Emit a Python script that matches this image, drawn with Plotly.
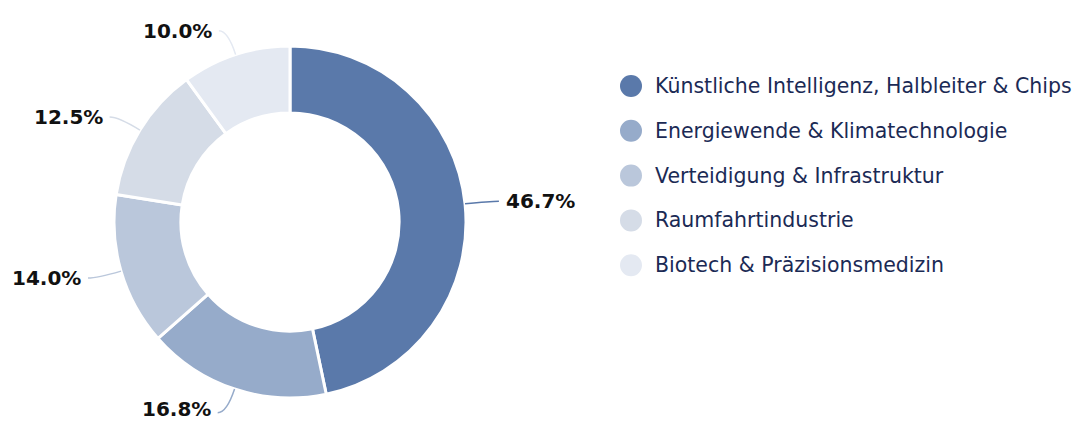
import math
import plotly.graph_objects as go

categories = [
    "Künstliche Intelligenz, Halbleiter & Chips",
    "Energiewende & Klimatechnologie",
    "Verteidigung & Infrastruktur",
    "Raumfahrtindustrie",
    "Biotech & Präzisionsmedizin",
]
values = [46.7, 16.8, 14.0, 12.5, 10.0]
colors = ["#5a79aa", "#96abca", "#bac7db", "#d5dce7", "#e4e9f2"]

W, H = 1077, 423
CX, CY, R = 290, 222, 176
HOLE = 0.62
LEN1, LEN2 = 25, 9

fig = go.Figure()
fig.add_trace(go.Pie(
    labels=categories, values=values, sort=False, direction="clockwise", rotation=0,
    hole=HOLE, textinfo="none", showlegend=False, hoverinfo="label+percent",
    marker=dict(colors=colors, line=dict(color="white", width=3)),
    domain=dict(x=[(CX - R) / W, (CX + R) / W], y=[1 - (CY + R) / H, 1 - (CY - R) / H]),
))

def px(x):
    return x / W

def py(y):
    return 1 - y / H

total = sum(values)
cum = 0.0
shapes = []
annotations = []
for v, c in zip(values, colors):
    mid = (cum + v / 2) / total * 2 * math.pi
    cum += v
    dx, dy = math.sin(mid), -math.cos(mid)
    x0, y0 = CX + R * dx, CY + R * dy
    x1, y1 = CX + (R + LEN1) * dx, CY + (R + LEN1) * dy
    side = 1 if dx >= 0 else -1
    x2, y2 = x1 + side * LEN2, y1
    shapes.append(dict(
        type="path", xref="paper", yref="paper",
        path=f"M {px(x0)},{py(y0)} Q {px(x1)},{py(y1)} {px(x2)},{py(y2)}",
        line=dict(color=c, width=1.5),
    ))
    ty = min(max(y2, 14), H - 14)
    annotations.append(dict(
        x=px(x2 + side * 5), y=py(ty), xref="paper", yref="paper",
        text=f"{v:.1f}%", showarrow=False,
        xanchor="left" if side > 0 else "right", yanchor="middle",
        font=dict(family="DejaVu Sans", size=20, color="#111111", weight="bold"),
    ))

LX, LY0, LDY, LR = 631, 86, 44.8, 11
for i, (name, c) in enumerate(zip(categories, colors)):
    y = LY0 + i * LDY
    shapes.append(dict(
        type="circle", xref="paper", yref="paper",
        x0=px(LX - LR), x1=px(LX + LR), y0=py(y + LR), y1=py(y - LR),
        fillcolor=c, line=dict(width=0),
    ))
    annotations.append(dict(
        x=px(LX + 22), y=py(y), xref="paper", yref="paper", text=name,
        showarrow=False, xanchor="left", yanchor="middle",
        font=dict(family="DejaVu Sans", size=20.5, color="#1b2a55"),
    ))

fig.update_layout(
    width=W, height=H, margin=dict(l=0, r=0, t=0, b=0),
    paper_bgcolor="white", plot_bgcolor="white",
    shapes=shapes, annotations=annotations,
)
fig.write_html("out.html")
